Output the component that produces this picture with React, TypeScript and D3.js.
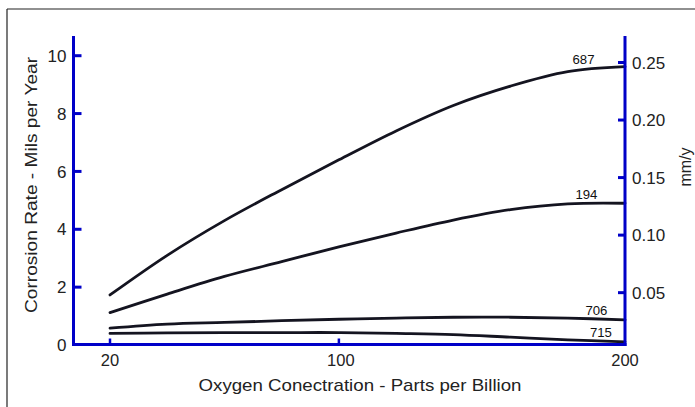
import React from "react";
import * as d3 from "d3";

const ppb = [20, 40, 60, 80, 100, 120, 140, 160, 180, 200];
const series687 = [1.73, 3.1, 4.3, 5.37, 6.4, 7.4, 8.28, 8.95, 9.45, 9.62];
const series194 = [1.12, 1.76, 2.37, 2.88, 3.39, 3.87, 4.32, 4.68, 4.88, 4.9];
const series706 = [0.58, 0.72, 0.78, 0.84, 0.89, 0.93, 0.96, 0.96, 0.93, 0.87];
const series715 = [0.4, 0.42, 0.43, 0.43, 0.43, 0.4, 0.36, 0.27, 0.18, 0.11];
const seriesNames = ["687", "194", "706", "715"];
const xTicks = [20, 100, 200];
const leftTicks = [0, 2, 4, 6, 8, 10];
const rightTicks = [0.05, 0.1, 0.15, 0.2, 0.25];

const W = 695;
const H = 407;
const BLUE = "#0000c8";
const FONT = "'Liberation Sans', Arial, Helvetica, sans-serif";

export default function App() {
  const x = d3.scaleLinear().domain([20, 200]).range([110, 625]);
  const yL = d3.scaleLinear().domain([0, 10]).range([345, 55.7]);
  const yR = d3.scaleLinear().domain([0, 0.25]).range([350.2, 62.5]);
  const axisLeftX = 73.5;
  const axisRightX = 625;
  const axisBottomY = 344.5;
  const axisTop = 36;

  const all = [series687, series194, series706, series715];
  const line = d3
    .line<number>()
    .x((_, i) => x(ppb[i]))
    .y((d) => yL(d))
    .curve(d3.curveCatmullRom.alpha(0.5));

  const labelX = [185.5, 186.5, 190, 191.6];
  const labelOff = [2.7, 4.3, 5, 5.2];

  return (
    <div style={{ position: "absolute", left: 0, top: 0 }}>
      <svg width={W} height={H} style={{ display: "block", background: "#fff" }}>
        <line x1={7} y1={9} x2={W} y2={9} stroke="#222" strokeWidth={1.2} />
        <line x1={7} y1={9} x2={7} y2={H} stroke="#222" strokeWidth={1.2} />

        {all.map((s, i) => (
          <path
            key={i}
            d={line(s) || ""}
            fill="none"
            stroke="#141420"
            strokeWidth={2.8}
            strokeLinecap="round"
          />
        ))}

        <line x1={axisLeftX} y1={axisTop} x2={axisLeftX} y2={axisBottomY + 1.5} stroke={BLUE} strokeWidth={3} />
        <line x1={axisRightX} y1={axisTop} x2={axisRightX} y2={axisBottomY + 1.5} stroke={BLUE} strokeWidth={3} />
        <line x1={axisLeftX - 1.5} y1={axisBottomY} x2={axisRightX + 1.5} y2={axisBottomY} stroke={BLUE} strokeWidth={3} />

        {leftTicks.map((t) => (
          <g key={"l" + t}>
            {t !== 0 && (
              <line x1={axisLeftX} x2={axisLeftX + 8} y1={yL(t)} y2={yL(t)} stroke={BLUE} strokeWidth={3} />
            )}
            <text x={66.5} y={yL(t)} dy="0.36em" textAnchor="end" fontFamily={FONT} fontSize={17} fill="#222">
              {t}
            </text>
          </g>
        ))}

        {rightTicks.map((t) => (
          <g key={"r" + t}>
            <line x1={axisRightX - 7} x2={axisRightX} y1={yR(t)} y2={yR(t)} stroke={BLUE} strokeWidth={3} />
            <text x={632} y={yR(t)} dy="0.36em" textAnchor="start" fontFamily={FONT} fontSize={17} fill="#222">
              {d3.format(".2f")(t)}
            </text>
          </g>
        ))}

        {xTicks.map((t) => (
          <g key={"x" + t}>
            {t !== 200 && (
              <line x1={x(t)} x2={x(t)} y1={axisBottomY} y2={axisBottomY - 6} stroke={BLUE} strokeWidth={2.5} />
            )}
            <text
              x={t === 200 ? axisRightX : x(t) + (t === 100 ? 2 : 0)}
              y={365.5}
              textAnchor="middle"
              fontFamily={FONT}
              fontSize={16.5}
              fill="#222"
            >
              {t}
            </text>
          </g>
        ))}

        {all.map((s, i) => (
          <text
            key={"lab" + i}
            x={x(labelX[i])}
            y={yL(s[s.length - 1]) - labelOff[i]}
            textAnchor="middle"
            fontFamily={FONT}
            fontSize={13.5}
            textLength={22}
            lengthAdjust="spacingAndGlyphs"
            fill="#111"
          >
            {seriesNames[i]}
          </text>
        ))}

        <text
          x={360}
          y={390.5}
          textAnchor="middle"
          fontFamily={FONT}
          fontSize={17}
          textLength={323}
          lengthAdjust="spacingAndGlyphs"
          fill="#222"
        >
          Oxygen Conectration - Parts per Billion
        </text>
        <text
          transform={`translate(36.5,185) rotate(-90)`}
          textAnchor="middle"
          fontFamily={FONT}
          fontSize={16}
          textLength={256}
          lengthAdjust="spacingAndGlyphs"
          fill="#222"
        >
          Corrosion Rate - Mils per Year
        </text>
        <text
          transform={`translate(690.5,167) rotate(-90)`}
          textAnchor="middle"
          fontFamily={FONT}
          fontSize={16}
          fill="#222"
        >
          mm/y
        </text>
      </svg>
    </div>
  );
}
